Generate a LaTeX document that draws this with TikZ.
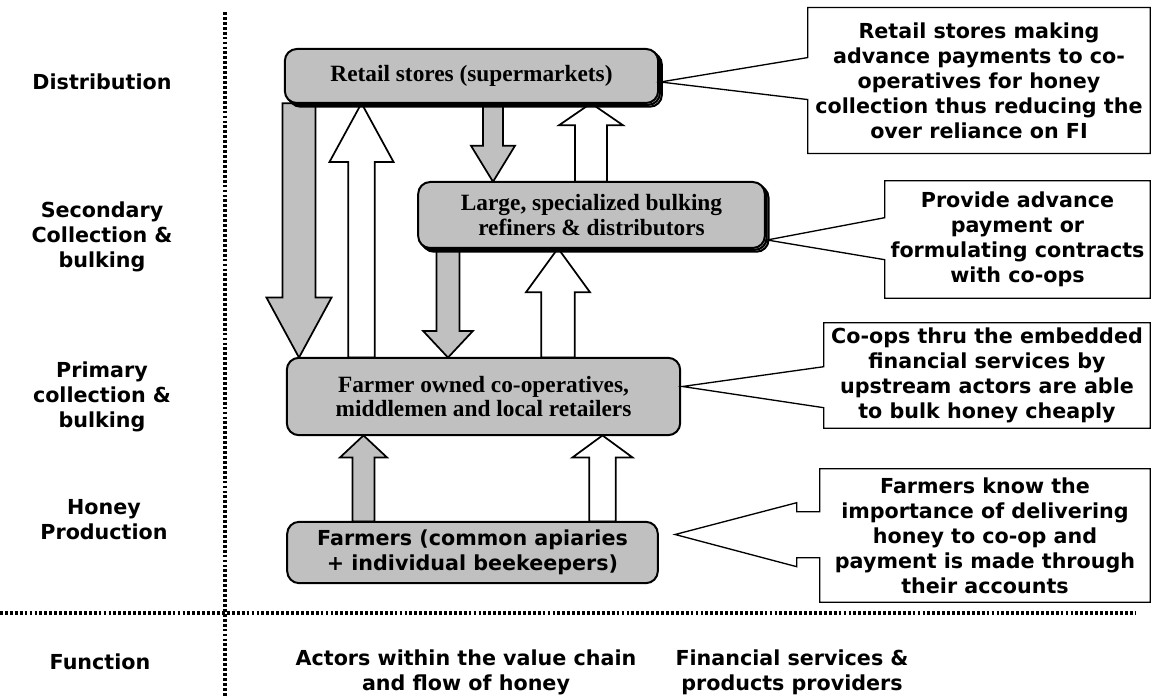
\documentclass[tikz,border=0pt]{standalone}
\usepackage{fontspec}
\setmainfont{Liberation Serif}
\newfontfamily\vsans{DejaVu Sans}
\usetikzlibrary{shadows,calc}

\definecolor{boxgray}{RGB}{192,192,192}

\newcommand{\serifbox}{\fontsize{17.5}{18.5}\selectfont\bfseries}
\newcommand{\sansbox}{\vsans\fontsize{15.5}{18.8}\selectfont\bfseries}

% block arrow from #2 to #3: shaft half width, head half width, head length
\newcommand{\blockarrow}[6]{%
    \draw[#1] let \p1=#2, \p2=#3, \n1={\y2-sign(\y2-\y1)*#6} in
        (\x1-#4,\y1) -- (\x2-#4,\n1*1pt) -- (\x2-#5,\n1*1pt) -- (\x2,\y2)
        -- (\x2+#5,\n1*1pt) -- (\x2+#4,\n1*1pt) -- (\x1+#4,\y1) -- cycle;}

\tikzset{
    actor/.style={draw, line width=1.5pt, rounded corners=9pt, fill=boxgray, align=center, inner sep=0pt},
    shadowed/.style={double copy shadow={shadow xshift=1.4pt, shadow yshift=-1.4pt, draw, line width=1.5pt}},
    grayflow/.style={draw, line width=1.3pt, fill=boxgray, line join=miter},
    whiteflow/.style={draw, line width=1.3pt, fill=white, line join=miter},
    note/.style={align=center, font=\sansbox, inner sep=0pt},
    noteline/.style={draw, line width=1pt, fill=white},
    level/.style={align=center, font=\sansbox},
    sep/.style={line width=2.4pt, dash pattern=on 2.1pt off 1.6pt}
}

\begin{document}
\begin{tikzpicture}[x=0.75pt, y=-0.75pt]
    \useasboundingbox (0,0) rectangle (1164,698);

    % function levels
    \node[level] (distr) at (102,82) {Distribution};
    \node[level] (second) at (102,237) {Secondary\\Collection \&\\bulking};
    \node[level] (primary) at (102,397) {Primary\\collection \&\\bulking};
    \node[level] (honey) at (104,520) {Honey\\Production};
    \node[level] (func) at (100,662) {Function};
    \node[level] (actors) at (466,672) {Actors within the value chain\\and flow of honey};
    \node[level] (fin) at (792,672) {Financial services \&\\products providers};

    \draw[sep] (225,12) -- (225,698);
    \draw[sep] (0,613) -- (1135,613);

    % actors
    \path (471.5,76) node[minimum width=280pt, minimum height=40.5pt] (retail) {};
    \path (591.5,215) node[minimum width=260pt, minimum height=49.5pt] (large) {};
    \path (483.5,396.5) node[minimum width=295pt, minimum height=58pt] (coop) {};
    \path (472.5,552.5) node[minimum width=278pt, minimum height=46pt] (farmers) {};

    \blockarrow{grayflow}{(299,0 |- retail.south)}{(299,0 |- coop.north)}{12.4pt}{24.4pt}{45pt}
    \blockarrow{whiteflow}{(361.5,0 |- coop.north)}{(361.5,0 |- retail.south)}{10pt}{24pt}{44pt}
    \blockarrow{grayflow}{(493,0 |- retail.south)}{(493,0 |- large.north)}{7.5pt}{16.5pt}{27pt}
    \blockarrow{whiteflow}{(591,0 |- large.north)}{(591,0 |- retail.south)}{12pt}{24pt}{16.5pt}
    \blockarrow{grayflow}{(448,0 |- large.south)}{(448,0 |- coop.north)}{8.6pt}{18.7pt}{20pt}
    \blockarrow{whiteflow}{(558,0 |- coop.north)}{(558,0 |- large.south)}{12.5pt}{24pt}{33pt}
    \blockarrow{grayflow}{(363.5,0 |- farmers.north)}{(363.5,0 |- coop.south)}{8.2pt}{17.6pt}{16.5pt}
    \blockarrow{whiteflow}{(602.5,0 |- farmers.north)}{(602.5,0 |- coop.south)}{10pt}{22.5pt}{16.5pt}

    \node[actor, shadowed, minimum width=280pt, minimum height=40.5pt, font=\serifbox] at (retail) {Retail stores (supermarkets)};
    \node[actor, shadowed, minimum width=260pt, minimum height=49.5pt, font=\serifbox] at (large) {Large, specialized bulking\\refiners \& distributors};
    \node[actor, minimum width=295pt, minimum height=58pt, font=\serifbox] at (coop) {Farmer owned co-operatives,\\middlemen and local retailers};
    \node[actor, minimum width=278pt, minimum height=46pt, font=\sansbox] at (farmers) {Farmers (common apiaries\\+ individual beekeepers)};

    % financial services
    \path (979,80.5) node[minimum width=256.5pt, minimum height=109pt] (retailnote) {};
    \path (1017.5,239.5) node[minimum width=198.8pt, minimum height=87.8pt] (largenote) {};
    \path (987,375.5) node[minimum width=244.5pt, minimum height=78.8pt] (coopnote) {};
    \path (985,535.5) node[minimum width=247.5pt, minimum height=99.8pt] (farmnote) {};

    \draw[noteline] (retailnote.north west) -- (retailnote.north east) -- (retailnote.south east)
        -- (retailnote.south west) -- ($(retailnote.north west)+(0,92)$)
        -- ($(retail.east)+(2,6)$) -- ($(retailnote.north west)+(0,50)$) -- cycle;
    \draw[noteline] (largenote.north west) -- (largenote.north east) -- (largenote.south east)
        -- (largenote.south west) -- ($(largenote.north west)+(0,79)$)
        -- ($(large.east)+(2,25)$) -- ($(largenote.north west)+(0,37)$) -- cycle;
    \draw[noteline] (coopnote.north west) -- (coopnote.north east) -- (coopnote.south east)
        -- (coopnote.south west) -- ($(coopnote.north west)+(0,85)$)
        -- ($(coop.east)+(2,-10)$) -- ($(coopnote.north west)+(0,44)$) -- cycle;
    \draw[noteline] (farmnote.north west) -- (farmnote.north east) -- (farmnote.south east)
        -- (farmnote.south west) -- ($(farmnote.north west)+(0,89)$)
        -- ($(farmnote.north west)+(-23,89)$) -- ($(farmnote.north west)+(-23,98)$)
        -- ($(farmers.east)+(17,-18)$)
        -- ($(farmnote.north west)+(-23,34)$) -- ($(farmnote.north west)+(-23,43)$)
        -- ($(farmnote.north west)+(0,43)$) -- cycle;

    \node[note] at (retailnote) {Retail stores making\\advance payments to co-\\operatives for honey\\collection thus reducing the\\over reliance on FI};
    \node[note] at (largenote) {Provide advance\\payment or\\formulating contracts\\with co-ops};
    \node[note] at (coopnote) {Co-ops thru the embedded\\financial services by\\upstream actors are able\\to bulk honey cheaply};
    \node[note] at (farmnote) {Farmers know the\\importance of delivering\\honey to co-op and\\payment is made through\\their accounts};
\end{tikzpicture}
\end{document}
